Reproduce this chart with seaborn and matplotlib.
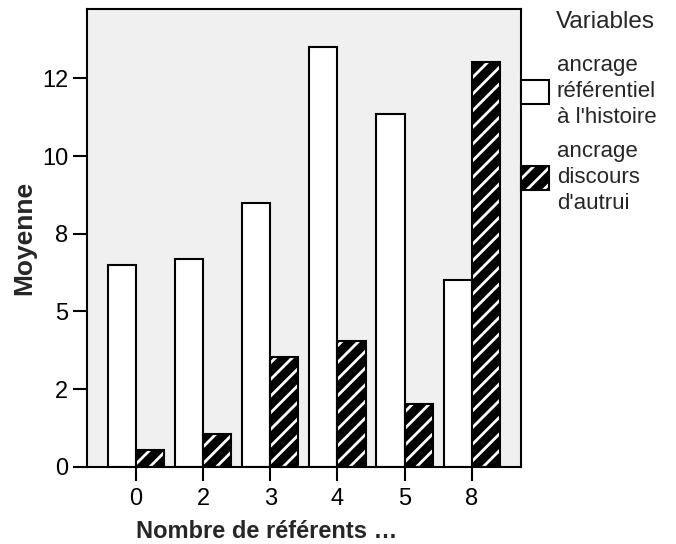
import pandas as pd
import matplotlib.pyplot as plt
import seaborn as sns
from matplotlib.patches import Patch, Rectangle
from matplotlib.legend_handler import HandlerTuple

categories = ["0", "2", "3", "4", "5", "8"]
series_names = ["ancrage\nréférentiel\nà l'histoire", "ancrage\ndiscours\nd'autrui"]
histoire = [6.5, 6.7, 8.5, 13.5, 11.35, 6.0]
discours = [0.53, 1.04, 3.52, 4.04, 2.03, 13.04]
ytick_values = [0, 2.5, 5, 7.5, 10, 12.5]
ytick_labels = ["0", "2", "5", "8", "10", "12"]

df = pd.DataFrame({
    "cat": categories * 2,
    "val": histoire + discours,
    "var": [series_names[0]] * len(categories) + [series_names[1]] * len(categories),
})

sns.set_style("white")
plt.rcParams["font.family"] = ["Liberation Sans", "DejaVu Sans"]
plt.rcParams["hatch.linewidth"] = 2.0

fig = plt.figure(figsize=(6.76, 5.44), dpi=100)
ax = fig.add_axes([0.128, 0.142, 0.643, 0.842])
ax.set_facecolor("#f0f0f0")

sns.barplot(data=df, x="cat", y="val", hue="var", order=categories,
            hue_order=series_names, palette=["white", "black"], width=0.84,
            gap=0, edgecolor="black", linewidth=1.5, legend=False, ax=ax)

# hatched bars: black with white stripes, black outline on top
n = len(categories)
for p in ax.patches[n:2 * n]:
    p.set_edgecolor("white")
    p.set_linewidth(0)
    p.set_hatch("//")
    ax.add_patch(Rectangle(p.get_xy(), p.get_width(), p.get_height(),
                           fill=False, edgecolor="black", lw=1.5, zorder=3))

ax.set_xlim(-0.735, n - 1 + 0.735)
ax.set_ylim(0, 14.74)
ax.set_yticks(ytick_values)
ax.set_yticklabels(ytick_labels)
ax.tick_params(axis="both", direction="out", length=10, width=1.5,
               labelsize=17, left=True, bottom=True, colors="black")
ax.tick_params(axis="y", pad=3)
ax.tick_params(axis="x", pad=5)
for s in ax.spines.values():
    s.set_linewidth(1.5)
    s.set_color("black")

ax.set_xlabel("Nombre de référents …", fontsize=17, fontweight="bold")
ax.xaxis.set_label_coords(0.415, -0.116)
ax.set_ylabel("Moyenne", fontsize=19, fontweight="bold", labelpad=4)

h1 = Patch(facecolor="white", edgecolor="black", lw=1.5)
h2a = Patch(facecolor="black", edgecolor="white", lw=0, hatch="//")
h2b = Patch(facecolor="none", edgecolor="black", lw=1.5)
leg = ax.legend([h1, (h2a, h2b)], series_names,
                handler_map={tuple: HandlerTuple(ndivide=1, pad=0)},
                loc="upper left", bbox_to_anchor=(1.0, 0.899), borderaxespad=0,
                borderpad=0, frameon=False, fontsize=16,
                handlelength=1.25, handleheight=1.25, handletextpad=0.35,
                labelspacing=0.62)
for t in leg.get_texts():
    t.set_linespacing(1.3)
fig.text(0.969, 0.96, "Variables", fontsize=17.5, ha="right", va="center")

fig.savefig("out.png", dpi=100)
